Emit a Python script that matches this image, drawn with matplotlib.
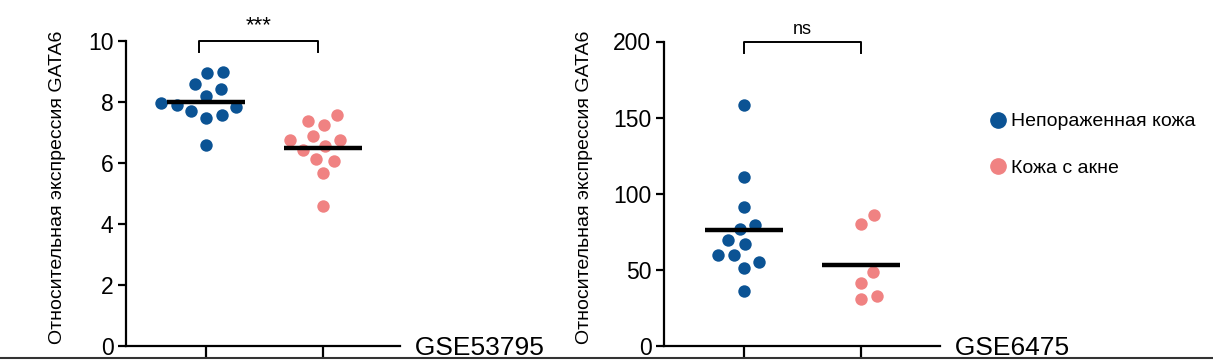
import numpy as np
import matplotlib
matplotlib.use('Agg')
import matplotlib.pyplot as plt
from matplotlib.lines import Line2D

plt.rcParams['font.family'] = ['Liberation Sans', 'DejaVu Sans']

# ---------------- data ----------------
groups = ['Непораженная кожа', 'Кожа с акне']
colors = ['#0b5394', '#f08282']

gse53795_normal = [8.97, 8.92, 8.57, 8.40, 8.19, 7.94, 7.88, 7.81, 7.68, 7.57, 7.47, 6.58]
gse53795_acne = [7.55, 7.36, 7.24, 6.86, 6.75, 6.74, 6.54, 6.43, 6.12, 6.04, 5.65, 4.59]

gse6475_normal = [158.2, 110.8, 91.4, 79.4, 76.6, 69.3, 66.7, 59.9, 59.5, 55.4, 51.5, 36.4]
gse6475_acne = [86.2, 80.1, 48.5, 41.6, 32.9, 31.0]

datasets = ['GSE53795', 'GSE6475']
signif = ['***', 'ns']
yticks = [[0, 2, 4, 6, 8, 10], [0, 50, 100, 150, 200]]
ylims = [(0, 10), (0, 200)]
ylabel = 'Относительная экспрессия GATA6'

W, H = 1213, 363
DOT_PX = 16.0     # spacing between dot centres in pixels


def swarm(values, ypx, xpx, d=DOT_PX):
    # simple beeswarm: place each point as close to the centre as possible
    order = np.argsort(values)
    placed = []
    offs = np.zeros(len(values))
    for i in order:
        y = values[i] * ypx
        cands = [0.0]
        for (px, py) in placed:
            dy = y - py
            if abs(dy) < d:
                dx = np.sqrt(d ** 2 - dy ** 2)
                cands += [px + dx, px - dx]
        cands.sort(key=abs)
        for c in cands:
            if all((c - px) ** 2 + (y - py) ** 2 >= d ** 2 - 1e-6 for (px, py) in placed):
                break
        placed.append((c, y))
        offs[i] = c / xpx
    return offs


def panel(rect_px, data, ylim, ticks, name, sig, bracket, sigsize):
    x0, x1, ytop, ybot, lab_px = rect_px
    ax = fig.add_axes([x0 / W, (H - ybot) / H, (x1 - x0) / W, (ybot - ytop) / H])
    xpx = 117.0
    ax.set_xlim(-80 / xpx, (x1 - x0 - 80) / xpx)
    ax.set_ylim(*ylim)
    ypx = (ybot - ytop) / (ylim[1] - ylim[0])

    for k, vals in enumerate(data):
        vals = np.array(vals)
        offs = swarm(vals, ypx, xpx)
        ax.scatter(k + offs, vals, s=80, color=colors[k], linewidths=0, zorder=3, clip_on=False)
        m = vals.mean()
        ax.plot([k - 0.335, k + 0.335], [m, m], color='black', lw=3.2, zorder=4, solid_capstyle='butt')

    # significance bracket
    top = ylim[1]
    drop = 11 / ypx
    ax.plot([bracket[0], bracket[0], bracket[1], bracket[1]], [top - drop, top, top, top - drop],
            color='black', lw=1.4, clip_on=False)
    ax.text((bracket[0] + bracket[1]) / 2, top + 4 / ypx, sig, ha='center', va='bottom', fontsize=sigsize)

    ax.spines['top'].set_visible(False)
    ax.spines['right'].set_visible(False)
    ax.spines['left'].set_linewidth(1.6)
    ax.spines['bottom'].set_linewidth(1.6)
    ax.set_yticks(ticks)
    ax.set_xticks([0, 1])
    ax.set_xticklabels([])
    ax.tick_params(axis='y', length=6, width=1.6, labelsize=16.5, pad=3)
    ax.tick_params(axis='x', length=9, width=1.6)
    ax.set_ylabel(ylabel, fontsize=14)
    ax.yaxis.set_label_coords(-lab_px / (x1 - x0), 0.52)
    ax.text(1.0, -0.005, '  ' + name, transform=ax.transAxes, ha='left', va='center', fontsize=19)
    return ax


fig = plt.figure(figsize=(W / 100, H / 100), dpi=100)

# (left px, right px, top px, bottom px, label distance px)
ax1 = panel((126, 400, 40.5, 346, 60), [gse53795_normal, gse53795_acne], ylims[0], yticks[0],
            datasets[0], signif[0], (-0.06, 0.96), 16)
ax2 = panel((664, 940, 41.5, 346, 71), [gse6475_normal, gse6475_acne], ylims[1], yticks[1],
            datasets[1], signif[1], (0.0, 1.0), 13)

handles = [Line2D([], [], marker='o', ls='', color=c, markersize=11) for c in colors]
fig.legend(handles, groups, loc='center left', bbox_to_anchor=(979 / W, (H - 145) / H),
           frameon=False, fontsize=14, handletextpad=0.05, labelspacing=1.5, handlelength=1.2,
           borderaxespad=0)

# thin frame line at the very bottom of the picture
fig.add_artist(Line2D([0, 1], [5.5 / H, 5.5 / H], color='#333333', lw=1.5, transform=fig.transFigure))

fig.savefig('out.png', dpi=100)
